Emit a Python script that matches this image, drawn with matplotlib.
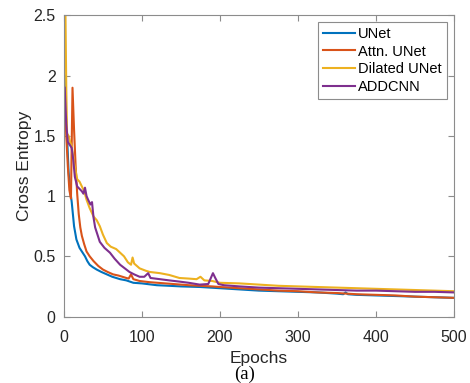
import matplotlib
matplotlib.use("Agg")
import matplotlib.pyplot as plt

# training loss curves (cross entropy per epoch)
unet_ep = [1, 2, 4, 6, 8, 10, 13, 16, 20, 23, 27, 30, 33, 37, 42, 48, 55, 62, 72, 80,
           89, 100, 119, 135, 150, 175, 200, 225, 250, 275, 300, 325, 350, 358, 361, 364,
           375, 400, 425, 450, 475, 500]
unet_ce = [2.0, 1.75, 1.5, 1.2, 1.05, 0.95, 0.75, 0.64, 0.57, 0.54, 0.50, 0.46, 0.43, 0.41,
           0.39, 0.37, 0.35, 0.33, 0.31, 0.30, 0.28, 0.275, 0.26, 0.255, 0.25, 0.245, 0.235,
           0.225, 0.215, 0.21, 0.205, 0.20, 0.19, 0.185, 0.20, 0.185, 0.18, 0.175, 0.17,
           0.165, 0.16, 0.155]

attn_ep = [1, 3, 5, 7, 9, 11, 13, 15, 17, 19, 21, 23, 26, 29, 33, 38, 44, 50, 56, 63, 70,
           75, 80, 83, 86, 89, 97, 110, 120, 130, 140, 150, 160, 175, 190, 200, 225, 250,
           275, 300, 325, 350, 375, 400, 425, 450, 475, 500]
attn_ce = [1.85, 1.5, 1.25, 1.05, 0.98, 1.90, 1.55, 1.25, 1.02, 0.85, 0.74, 0.67, 0.60,
           0.54, 0.50, 0.46, 0.42, 0.39, 0.37, 0.35, 0.34, 0.33, 0.32, 0.315, 0.35, 0.31,
           0.295, 0.285, 0.28, 0.275, 0.27, 0.265, 0.26, 0.255, 0.25, 0.245, 0.235, 0.225,
           0.215, 0.21, 0.20, 0.195, 0.185, 0.18, 0.175, 0.165, 0.16, 0.155]

dil_ep = [1, 2, 3, 4, 6, 8, 10, 13, 17, 20, 23, 26, 29, 33, 38, 42, 46, 50, 55, 60, 67, 72,
          77, 82, 86, 88, 90, 97, 105, 110, 123, 135, 148, 160, 170, 175, 180, 190, 200,
          225, 250, 275, 300, 325, 350, 375, 400, 425, 450, 475, 500]
dil_ce = [2.7, 2.5, 1.9, 1.52, 1.5, 1.45, 1.41, 1.28, 1.14, 1.12, 1.08, 1.04, 0.97, 0.90,
          0.83, 0.80, 0.75, 0.68, 0.61, 0.58, 0.56, 0.53, 0.50, 0.45, 0.43, 0.49, 0.44, 0.40,
          0.38, 0.37, 0.36, 0.345, 0.32, 0.315, 0.31, 0.33, 0.30, 0.295, 0.28, 0.275, 0.265,
          0.255, 0.25, 0.245, 0.24, 0.235, 0.23, 0.225, 0.22, 0.215, 0.21]

add_ep = [1, 3, 5, 8, 10, 12, 14, 17, 20, 23, 25, 27, 29, 31, 34, 36, 38, 40, 43, 46, 52,
          59, 65, 72, 78, 84, 90, 97, 103, 108, 111, 123, 135, 148, 160, 174, 185, 189, 191,
          194, 198, 205, 225, 250, 275, 300, 325, 350, 375, 400, 425, 450, 475, 500]
add_ce = [1.90, 1.6, 1.45, 1.42, 1.40, 1.30, 1.16, 1.08, 1.06, 1.04, 1.02, 1.07, 1.0, 0.97,
          0.93, 0.95, 0.82, 0.74, 0.68, 0.62, 0.57, 0.53, 0.48, 0.43, 0.40, 0.37, 0.35, 0.33,
          0.33, 0.36, 0.32, 0.31, 0.30, 0.29, 0.28, 0.265, 0.27, 0.33, 0.36, 0.32, 0.27, 0.26,
          0.25, 0.24, 0.235, 0.23, 0.225, 0.22, 0.215, 0.215, 0.21, 0.205, 0.205, 0.20]

series = [
    ("UNet", unet_ep, unet_ce, "#0072BD"),
    ("Attn. UNet", attn_ep, attn_ce, "#D95319"),
    ("Dilated UNet", dil_ep, dil_ce, "#EDB120"),
    ("ADDCNN", add_ep, add_ce, "#7E2F8E"),
]

plt.rcParams["font.family"] = ["Liberation Sans", "DejaVu Sans"]
axis_gray = "#8c8c8c"
text_col = "#262626"

fig = plt.figure(figsize=(4.70, 3.83), dpi=100)
ax = fig.add_axes([0.136, 0.1736, 0.830, 0.786])

for name, ep, ce, col in series:
    ax.plot(ep, ce, color=col, lw=1.5, label=name)

ax.set_xlim(0, 500)
ax.set_ylim(0, 2.5)
ax.set_xticks([0, 100, 200, 300, 400, 500])
ax.set_yticks([0, 0.5, 1, 1.5, 2, 2.5])
ax.set_yticklabels(["0", "0.5", "1", "1.5", "2", "2.5"])
ax.tick_params(direction="in", top=True, right=True, length=4, width=0.8,
               color=axis_gray, labelcolor=text_col, labelsize=11.5)
ax.tick_params(axis="x", pad=10)
ax.tick_params(axis="y", pad=6)
for sp in ax.spines.values():
    sp.set_color(axis_gray)
    sp.set_linewidth(0.8)

ax.set_xlabel("Epochs", fontsize=12.5, color=text_col, labelpad=4)
ax.set_ylabel("Cross Entropy", fontsize=12.5, color=text_col, labelpad=1)

leg = ax.legend(loc="upper right", bbox_to_anchor=(0.982, 0.979), fontsize=10.5,
                frameon=True, fancybox=False, framealpha=1, edgecolor=axis_gray,
                handlelength=2.2, handletextpad=0.2, labelspacing=0.25,
                borderpad=0.35, borderaxespad=0)
leg.get_frame().set_linewidth(0.8)

fig.text(0.521, 0.0, "(a)", family="Liberation Serif", fontsize=13.5,
         ha="center", va="bottom", color="black")

fig.savefig("out.png", dpi=100)
